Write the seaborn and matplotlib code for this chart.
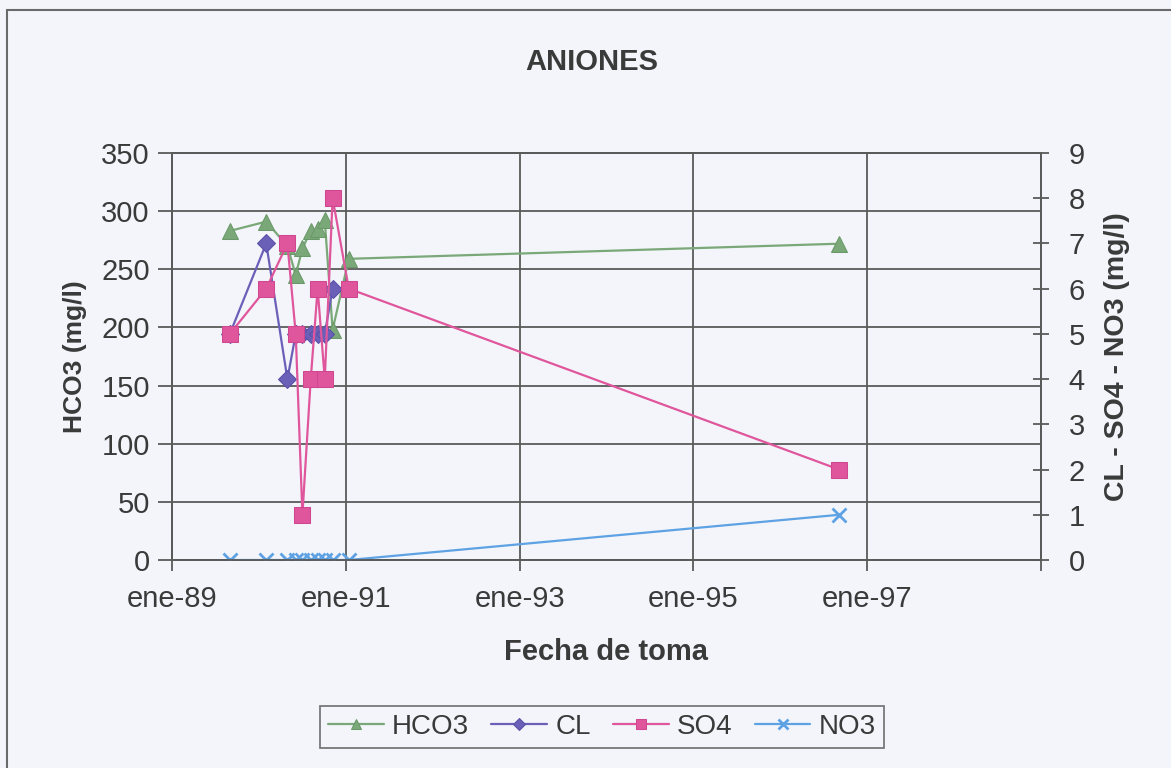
import pandas as pd
import matplotlib
matplotlib.use("Agg")
import matplotlib.pyplot as plt
from matplotlib.patches import Rectangle
import seaborn as sns

# fechas de muestreo
fechas = ["1989-09-01", "1990-02-01", "1990-05-01", "1990-06-05", "1990-07-03",
          "1990-08-07", "1990-09-05", "1990-10-05", "1990-11-07", "1991-01-14",
          "1996-09-05"]
hco3 = [283, 291, 270, 245, 268, 283, 285, 292, 198, 259, 272]
cl = [5, 7, 4, 5, 5, 5, 5, 5, 6]
so4 = [5, 6, 7, 5, 1, 4, 6, 4, 8, 6, 2]
no3 = [0, 0, 0, 0, 0, 0, 0, 0, 0, 0, 1]

x_ticks = ["1989-01-01", "1991-01-01", "1993-01-01", "1995-01-01", "1997-01-01", "1999-01-01"]
x_tick_labels = ["ene-89", "ene-91", "ene-93", "ene-95", "ene-97", ""]
y_left_ticks = [0, 50, 100, 150, 200, 250, 300, 350]
y_right_ticks = [0, 1, 2, 3, 4, 5, 6, 7, 8, 9]

bg = "#f3f5fb"
txt = "#3a3a3a"
grid_c = "#5a5a5a"

sns.set_theme(style="white")
plt.rcParams["font.family"] = ["Liberation Sans", "DejaVu Sans"]

fig = plt.figure(figsize=(11.71, 7.68), dpi=100)
fig.patch.set_facecolor(bg)
ax = fig.add_axes([172 / 1171, 1 - 560 / 768, 869 / 1171, 407 / 768])
ax.set_facecolor(bg)
ax2 = ax.twinx()

df = pd.DataFrame({"fecha": pd.to_datetime(fechas), "HCO3": hco3, "SO4": so4, "NO3": no3})
df_cl = pd.DataFrame({"fecha": pd.to_datetime(fechas[:len(cl)]), "CL": cl})

sns.lineplot(data=df, x="fecha", y="HCO3", ax=ax, color="#7aa878", marker="^",
             markersize=11, markeredgecolor="#6a9868", linewidth=1.6, legend=False)
sns.lineplot(data=df_cl, x="fecha", y="CL", ax=ax2, color="#6a60b8", marker="D",
             markersize=9, markeredgecolor="#5a50a8", linewidth=1.6, legend=False)
sns.lineplot(data=df, x="fecha", y="SO4", ax=ax2, color="#e0569c", marker="s",
             markersize=11, markeredgecolor="#d04690", linewidth=1.6, legend=False)
sns.lineplot(data=df, x="fecha", y="NO3", ax=ax2, color="#5ea2e4", marker="x",
             markersize=10, markeredgecolor="#5ea2e4", markeredgewidth=2,
             linewidth=1.6, legend=False)

xt = pd.to_datetime(x_ticks)
ax.set_xlim(xt[0], xt[-1])
ax.set_xticks(xt)
ax.set_xticklabels(x_tick_labels)
ax.set_ylim(0, 350)
ax.set_yticks(y_left_ticks)
ax2.set_ylim(0, 9)
ax2.set_yticks(y_right_ticks)

ax.grid(True, color=grid_c, linewidth=1.3)
ax.set_axisbelow(True)
ax2.grid(False)

for a in (ax, ax2):
    for s in a.spines.values():
        s.set_color(grid_c)
        s.set_linewidth(1.3)

ax.tick_params(axis="x", direction="out", length=8, width=1.3, color=grid_c,
               labelsize=21, labelcolor=txt, pad=10, bottom=True)
ax.tick_params(axis="y", direction="out", length=10, width=1.3, color=grid_c,
               labelsize=21, labelcolor=txt, pad=6, left=True)
ax2.tick_params(axis="y", direction="inout", length=12, width=1.3, color=grid_c,
                labelsize=21, labelcolor=txt, pad=14, right=True)

ax.set_xlabel("Fecha de toma", fontsize=21, fontweight="bold", color=txt, labelpad=18)
ax.set_ylabel("HCO3 (mg/l)", fontsize=19, fontweight="bold", color=txt, labelpad=10)
ax2.set_ylabel("CL - SO4 - NO3 (mg/l)", fontsize=20.5, fontweight="bold", color=txt, labelpad=14)

fig.text(592 / 1171, 1 - 62 / 768, "ANIONES", ha="center", va="center",
         fontsize=21, fontweight="bold", color=txt)

handles = ax.get_lines()[-1:] + ax2.get_lines()[-3:]
leg = fig.legend(handles, ["HCO3", "CL", "SO4", "NO3"], loc="center", ncol=4,
                 bbox_to_anchor=(602 / 1171, 1 - 727 / 768), fontsize=20,
                 frameon=True, fancybox=False, handlelength=2.0, handletextpad=0.3,
                 columnspacing=0.8, borderpad=0.3, markerscale=0.7)
leg.get_frame().set_edgecolor(grid_c)
leg.get_frame().set_facecolor(bg)
leg.get_frame().set_linewidth(1.3)
for t in leg.get_texts():
    t.set_color(txt)

# borde del area del grafico
fig.patches.append(Rectangle((7 / 1171, -0.1), 1.2, 1 - 10 / 768 + 0.1,
                             transform=fig.transFigure, fill=False,
                             edgecolor="#6a6a6a", linewidth=1.5))

fig.savefig("out.png", dpi=100, facecolor=bg)
